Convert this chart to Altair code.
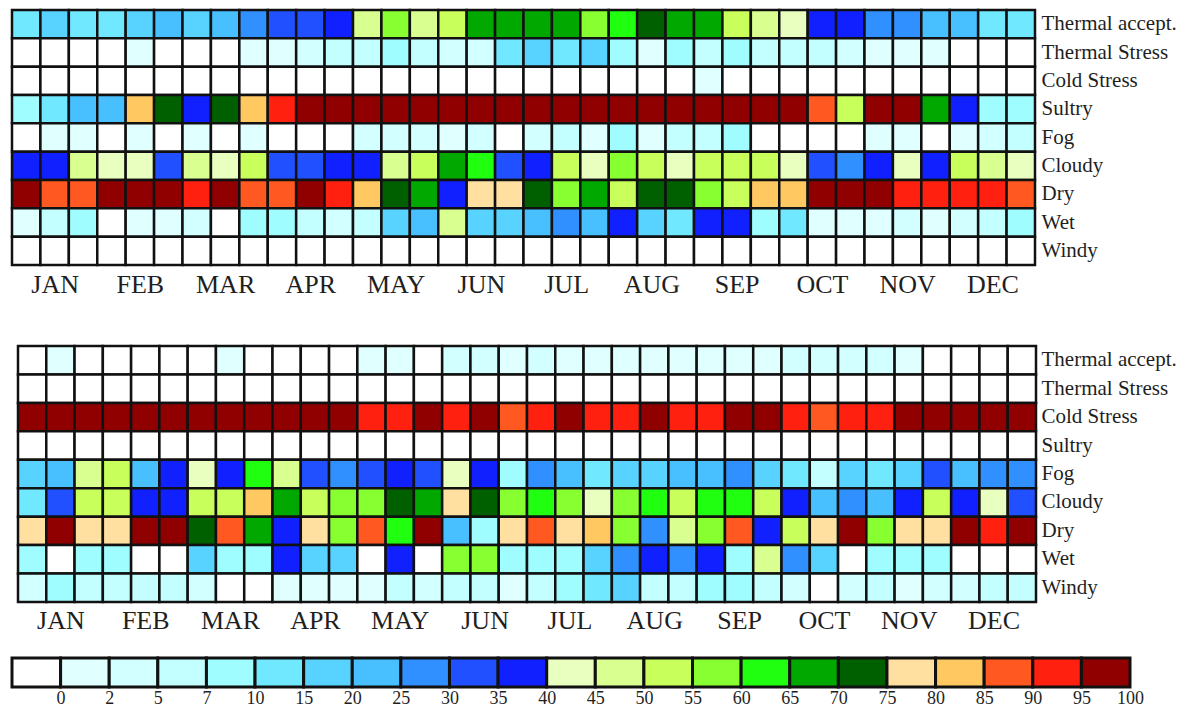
import altair as alt
import pandas as pd

rows = ["Thermal accept.", "Thermal Stress", "Cold Stress", "Sultry", "Fog",
        "Cloudy", "Dry", "Wet", "Windy"]
months = ["JAN", "FEB", "MAR", "APR", "MAY", "JUN", "JUL", "AUG", "SEP",
          "OCT", "NOV", "DEC"]

# class limits (%) and colours of the colour bar
legend_labels = ["0", "2", "5", "7", "10", "15", "20", "25", "30", "35", "40",
                 "45", "50", "55", "60", "65", "70", "75", "80", "85", "90",
                 "95", "100"]
colors = ["#ffffff", "#e0ffff", "#d2ffff", "#c4ffff", "#9ffcff", "#70e8ff",
          "#58d2ff", "#48c0ff", "#3090ff", "#2050ff", "#1020ff", "#e8ffc0",
          "#d8ff90", "#c8ff5a", "#88ff30", "#20ff10", "#00a800", "#006000",
          "#ffe0a0", "#ffc860", "#ff5820", "#ff2010", "#900000"]

# ---- upper panel: frequency (%) per 10-day period ----
top_thermal_accept = [12, 17, 12, 12, 17, 22, 17, 22, 27, 32, 32, 37, 47, 57, 47, 52, 67, 67, 67, 67, 57, 62, 72, 67,
                      67, 52, 47, 42, 37, 37, 27, 27, 22, 22, 12, 12]
top_thermal_stress = [0, 0, 0, 0, 1, 0, 0, 0, 1, 1, 3, 6, 6, 8, 6, 3, 3, 12, 17, 12, 17, 8, 1, 8,
                      6, 8, 6, 6, 6, 3, 1, 1, 1, 0, 0, 0]
top_cold_stress = [0, 0, 0, 0, 0, 0, 0, 0, 0, 0, 0, 0, 0, 0, 0, 0, 0, 0, 0, 0, 0, 0, 0, 0,
                   1, 0, 0, 0, 0, 0, 0, 0, 0, 0, 0, 0]
top_sultry = [8, 12, 22, 22, 82, 72, 37, 72, 82, 92, 97, 97, 97, 97, 97, 97, 97, 97, 97, 97, 97, 97, 97, 97,
              97, 97, 97, 97, 87, 52, 97, 97, 67, 37, 8, 8]
top_fog = [0, 1, 1, 0, 1, 0, 1, 0, 1, 0, 0, 0, 3, 3, 3, 1, 3, 0, 3, 6, 1, 8, 1, 6,
           6, 8, 0, 0, 0, 0, 1, 1, 0, 1, 3, 6]
top_cloudy = [37, 37, 47, 42, 42, 32, 47, 42, 52, 32, 32, 37, 37, 47, 52, 67, 62, 32, 37, 52, 42, 57, 52, 42,
              52, 52, 52, 42, 32, 27, 37, 42, 37, 52, 47, 42]
top_dry = [97, 87, 87, 97, 97, 97, 92, 97, 87, 87, 97, 92, 82, 72, 67, 37, 77, 77, 72, 57, 67, 52, 72, 72,
           57, 52, 82, 82, 97, 97, 97, 92, 92, 92, 92, 87]
top_wet = [1, 6, 8, 0, 1, 1, 3, 0, 8, 8, 6, 3, 6, 17, 22, 47, 17, 17, 22, 27, 22, 37, 17, 12,
           37, 37, 8, 12, 1, 1, 1, 3, 1, 3, 6, 8]
top_windy = [0] * 36

# ---- lower panel ----
bot_thermal_accept = [0, 1, 0, 0, 0, 0, 0, 1, 0, 0, 0, 0, 1, 1, 0, 3, 3, 1, 3, 1, 1, 1, 1, 1,
                      1, 1, 1, 3, 3, 3, 3, 1, 0, 0, 0, 0]
bot_thermal_stress = [0] * 36
bot_cold_stress = [97, 97, 97, 97, 97, 97, 97, 97, 97, 97, 97, 97, 92, 92, 97, 92, 97, 87, 92, 97, 92, 92, 97, 92,
                   92, 97, 97, 92, 87, 92, 92, 97, 97, 97, 97, 97]
bot_sultry = [0] * 36
bot_fog = [17, 22, 47, 52, 22, 37, 42, 37, 62, 47, 32, 27, 32, 37, 32, 42, 37, 8, 27, 22, 12, 17, 17, 22,
           22, 27, 17, 12, 6, 17, 12, 17, 32, 22, 27, 27]
bot_cloudy = [12, 32, 52, 52, 37, 37, 52, 52, 82, 67, 52, 57, 57, 72, 67, 77, 72, 57, 62, 57, 42, 57, 62, 52,
              62, 62, 52, 37, 22, 27, 22, 37, 52, 37, 42, 32]
bot_dry = [77, 97, 77, 77, 97, 97, 72, 87, 67, 37, 77, 57, 87, 62, 97, 22, 8, 77, 87, 77, 82, 57, 27, 47,
           57, 87, 37, 52, 77, 97, 57, 77, 77, 97, 92, 97]
bot_wet = [8, 0, 8, 8, 0, 0, 17, 8, 8, 37, 17, 17, 0, 37, 0, 57, 57, 8, 8, 8, 17, 27, 37, 27,
           37, 8, 47, 27, 17, 0, 8, 8, 8, 0, 0, 0]
bot_windy = [3, 8, 6, 6, 6, 6, 3, 0, 0, 1, 1, 1, 1, 6, 3, 6, 6, 1, 6, 8, 12, 17, 6, 6,
             8, 8, 6, 3, 0, 3, 6, 1, 3, 3, 6, 6]

top_series = [top_thermal_accept, top_thermal_stress, top_cold_stress, top_sultry,
              top_fog, top_cloudy, top_dry, top_wet, top_windy]
bot_series = [bot_thermal_accept, bot_thermal_stress, bot_cold_stress, bot_sultry,
              bot_fog, bot_cloudy, bot_dry, bot_wet, bot_windy]

bounds = [float(s) for s in legend_labels]
thresholds = [0.5] + bounds[1:-1]


def long_table(series):
    recs = []
    for name, vals in zip(rows, series):
        for c, v in enumerate(vals):
            recs.append({"row": name, "c": c, "c2": c + 1, "v": v})
    return pd.DataFrame(recs)


FONT = "Liberation Serif"
TXT = "#1f1f1f"
color_scale = alt.Scale(type="threshold", domain=thresholds, range=colors)
month_expr = "[" + ",".join("'%s'" % m for m in months) + "][floor(datum.value / 3)]"


def heat(df, w, h, xpad, ypad):
    return alt.Chart(df).mark_rect(stroke="#111111", strokeWidth=2.5).encode(
        x=alt.X("c:Q", scale=alt.Scale(domain=[0, 36], nice=False, zero=False),
                axis=alt.Axis(values=[1.5 + 3 * i for i in range(12)], labelExpr=month_expr,
                              grid=False, ticks=False, tickSize=0, domain=False,
                              labelPadding=xpad, labelFontSize=26, labelFont=FONT,
                              labelColor=TXT, labelFlush=False, labelOverlap=False,
                              title=None)),
        x2="c2:Q",
        y=alt.Y("row:N", sort=rows, scale=alt.Scale(paddingInner=0, paddingOuter=0),
                axis=alt.Axis(orient="right", ticks=False, tickSize=0, domain=False,
                              labelPadding=ypad, labelFontSize=21, labelFont=FONT,
                              labelColor=TXT, title=None)),
        color=alt.Color("v:Q", scale=color_scale, legend=None),
    ).properties(width=w, height=h)


top = heat(long_table(top_series), 1023, 255, 6, 6)
bottom = heat(long_table(bot_series), 1018, 256, 5, 5)

spacer = alt.Chart(pd.DataFrame({"a": [0]})).mark_point(size=0, opacity=0).properties(width=1, height=10)
bottom_row = alt.hconcat(spacer, bottom, spacing=3)

legend_vals = [0.0] + [(bounds[k - 1] + bounds[k]) / 2 for k in range(1, len(bounds))]
legend_df = pd.DataFrame({"i": list(range(len(bounds))),
                          "i2": list(range(1, len(bounds) + 1)),
                          "v": legend_vals})
label_expr = "[" + ",".join("'%s'" % s for s in legend_labels) + "][datum.value - 1]"

legend = alt.Chart(legend_df).mark_rect(stroke="#111111", strokeWidth=3).encode(
    x=alt.X("i:Q", scale=alt.Scale(domain=[0, len(bounds)], nice=False, zero=False),
            axis=alt.Axis(values=list(range(1, len(bounds) + 1)), labelExpr=label_expr,
                          grid=False, ticks=False, tickSize=0, domain=False,
                          labelPadding=2, labelFontSize=18, labelFont=FONT, labelColor=TXT,
                          labelFlush=False, labelOverlap=False, title=None)),
    x2="i2:Q",
    color=alt.Color("v:Q", scale=color_scale, legend=None),
).properties(width=1118, height=29)

chart = alt.vconcat(
    alt.vconcat(top, bottom_row, spacing=46),
    legend,
    spacing=22,
).properties(
    padding={"left": 2, "top": 0, "right": 2, "bottom": 0}
).configure_view(strokeWidth=0).configure(background="white")

chart.save("out.html", embed_options={"renderer": "svg", "actions": False})
